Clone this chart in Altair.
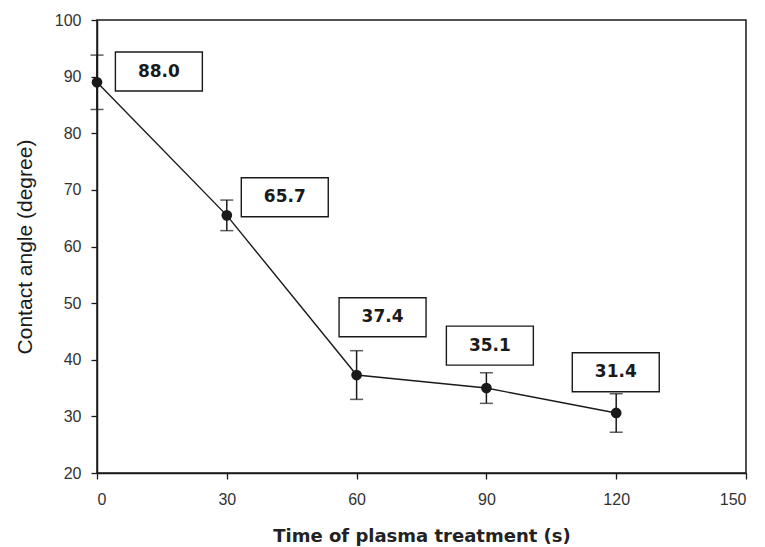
import altair as alt
import pandas as pd

# Data
times = [0, 30, 60, 90, 120]
angle = [89.0, 65.5, 37.3, 35.0, 30.6]
sd = [4.8, 2.7, 4.3, 2.7, 3.4]
labels = ["88.0", "65.7", "37.4", "35.1", "31.4"]
# annotation box anchors (data units)
label_x = [14.3, 43.4, 66.0, 90.8, 119.9]
label_y = [90.9, 68.7, 47.5, 42.5, 37.8]

df = pd.DataFrame({
    "t": times,
    "angle": angle,
    "lo": [a - s for a, s in zip(angle, sd)],
    "hi": [a + s for a, s in zip(angle, sd)],
})
lab = pd.DataFrame({"lx": label_x, "ly": label_y, "text": labels})

ink = "#1a1a1a"
xscale = alt.Scale(domain=[0, 150], nice=False, zero=False)
yscale = alt.Scale(domain=[20, 100], nice=False, zero=False)

xaxis = alt.Axis(
    values=[0, 30, 60, 90, 120, 150], grid=False, tickSize=6, labelPadding=12,
    labelFont="Liberation Sans", labelFontSize=16, labelColor="#333",
    title="Time of plasma treatment (s)", titleFont="DejaVu Sans",
    titleFontSize=18, titleFontWeight="bold", titleColor="#222", titlePadding=20,
    domainColor=ink, domainWidth=1.5, tickColor=ink, tickWidth=1.3,
)
yaxis = alt.Axis(
    values=[20, 30, 40, 50, 60, 70, 80, 90, 100], grid=False, tickSize=6,
    labelPadding=10, labelFont="Liberation Sans", labelFontSize=16,
    labelColor="#333", title="Contact angle (degree)",
    titleFont="Liberation Sans", titleFontSize=21, titleFontWeight="normal",
    titleColor=ink, titlePadding=19,
    domainColor=ink, domainWidth=1.5, tickColor=ink, tickWidth=1.3,
)

base = alt.Chart(df)

line = base.mark_line(color=ink, strokeWidth=1.4).encode(
    x=alt.X("t:Q", scale=xscale, axis=xaxis),
    y=alt.Y("angle:Q", scale=yscale, axis=yaxis),
)
rules = base.mark_rule(color=ink, strokeWidth=1.5).encode(
    x="t:Q", y="lo:Q", y2="hi:Q"
)
cap_lo = base.mark_tick(color=ink, orient="horizontal", size=13, thickness=1.5).encode(
    x="t:Q", y="lo:Q"
)
cap_hi = base.mark_tick(color=ink, orient="horizontal", size=13, thickness=1.5).encode(
    x="t:Q", y="hi:Q"
)
pts = base.mark_point(filled=True, color=ink, size=115, opacity=1, shape="circle").encode(
    x="t:Q", y="angle:Q"
)

lbase = alt.Chart(lab)
boxes = lbase.mark_point(
    shape="M-2.23,-1L2.23,-1L2.23,1L-2.23,1Z", size=1521, filled=True,
    fill="white", stroke=ink, strokeWidth=1.4, opacity=1,
).encode(x="lx:Q", y="ly:Q")
texts = lbase.mark_text(
    font="DejaVu Sans", fontWeight="bold", fontSize=17, color=ink,
    baseline="middle", align="center",
).encode(x="lx:Q", y="ly:Q", text="text:N")

chart = (
    alt.layer(line, rules, cap_lo, cap_hi, pts, boxes, texts)
    .properties(
        width=649, height=453,
        padding={"left": 97, "top": 20, "right": 19, "bottom": 74},
        autosize=alt.AutoSizeParams(type="none"),
        background="white",
    )
    .configure_view(stroke=ink, strokeWidth=1.5)
)

chart.save("out.html", embed_options={"renderer": "svg", "actions": False})
